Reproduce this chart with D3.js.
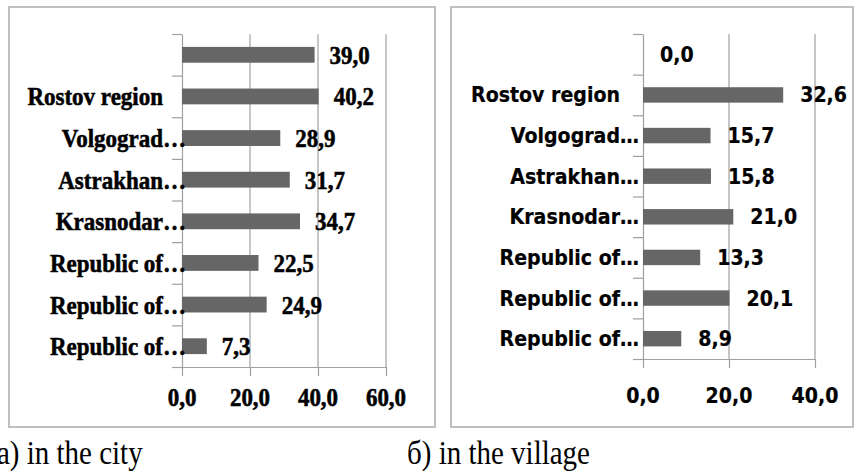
<!DOCTYPE html>
<html>
<head>
<meta charset="utf-8">
<script src="https://cdn.jsdelivr.net/npm/d3@7"></script>
<style>
  body { margin: 0; background: #fff; }
  svg { display: block; }
</style>
</head>
<body>
<div id="chart"></div>
<script>
// data
var categories = ["", "Rostov region", "Volgograd…", "Astrakhan…", "Krasnodar…", "Republic of…", "Republic of…", "Republic of…"];
var cityValues = [39.0, 40.2, 28.9, 31.7, 34.7, 22.5, 24.9, 7.3];
var villageValues = [0.0, 32.6, 15.7, 15.8, 21.0, 13.3, 20.1, 8.9];
var cityTicks = [0, 20, 40, 60];
var villageTicks = [0, 20, 40];
var captions = ["a) in the city", "б) in the village"];

var width = 856, height = 473;

var svg = d3.select("#chart")
    .append("svg")
    .attr("width", width)
    .attr("height", height);

var fmt = function (d) { return d.toFixed(1).replace(".", ","); };

// text in the source is a bit stretched vertically
var stretch = 1.12;

var panels = [
    {
        values: cityValues, ticks: cityTicks, max: 60,
        box: [9, 7, 435, 427],
        left: 182, right: 386, top: 34, bottom: 367,
        font: "'Liberation Serif', 'Times New Roman', serif", size: 23, heavy: 0.5,
        labelGap: 19, valueGap: 15, tickY: 397,
        caption: captions[0], capX: -3
    },
    {
        values: villageValues, ticks: villageTicks, max: 40,
        box: [451, 7, 853, 427],
        left: 643, right: 815, top: 34, bottom: 359,
        font: "'DejaVu Sans', sans-serif", size: 19, heavy: 0.2,
        labelGap: 23, valueGap: 17, tickY: 396,
        caption: captions[1], capX: 407
    }
];

function label(g, p, x, y, anchor, txt) {
    return g.append("text")
        .attr("transform", "translate(" + x + "," + y + ") scale(1," + stretch + ")")
        .attr("dy", "0.35em")
        .attr("text-anchor", anchor)
        .attr("stroke", "#000")
        .attr("stroke-width", p.heavy)
        .style("font-family", p.font)
        .style("font-weight", "bold")
        .style("font-size", p.size + "px")
        .text(txt);
}

panels.forEach(function (p) {
    var g = svg.append("g");

    // panel frame
    g.append("rect")
        .attr("x", p.box[0])
        .attr("y", p.box[1])
        .attr("width", p.box[2] - p.box[0])
        .attr("height", p.box[3] - p.box[1])
        .attr("fill", "none")
        .attr("stroke", "#bfbfbf")
        .attr("stroke-width", 2);

    var x = d3.scaleLinear()
        .domain([0, p.max])
        .range([p.left, p.right]);

    var y = d3.scaleBand()
        .domain(d3.range(categories.length))
        .range([p.top, p.bottom])
        .paddingInner(0.62)
        .paddingOuter(0.31);

    var yEdge = d3.scaleLinear()
        .domain([0, categories.length])
        .range([p.top, p.bottom]);

    // vertical gridlines
    g.selectAll(".grid")
        .data(p.ticks.slice(1))
        .enter()
        .append("line")
        .attr("x1", function (d) { return x(d); })
        .attr("x2", function (d) { return x(d); })
        .attr("y1", p.top)
        .attr("y2", p.bottom)
        .attr("stroke", "#a0a0a0")
        .attr("stroke-width", 1.2);

    // bottom axis (labels drawn below by hand to allow the stretch)
    var xAxis = g.append("g")
        .attr("transform", "translate(0," + p.bottom + ")")
        .call(d3.axisBottom(x).tickValues(p.ticks).tickSize(9).tickSizeOuter(0).tickFormat(""));
    xAxis.select(".domain").attr("stroke", "#a0a0a0").attr("stroke-width", 1.2);
    xAxis.selectAll(".tick line").attr("stroke", "#a0a0a0").attr("stroke-width", 1.2);
    p.ticks.forEach(function (t) {
        label(g, p, x(t), p.tickY, "middle", fmt(t));
    });

    // left axis with ticks between categories
    var yAxis = g.append("g")
        .attr("transform", "translate(" + p.left + ",0)")
        .call(d3.axisLeft(yEdge).tickValues(d3.range(categories.length + 1)).tickSize(10).tickSizeOuter(0).tickFormat(""));
    yAxis.select(".domain").attr("stroke", "#a0a0a0").attr("stroke-width", 1.2);
    yAxis.selectAll(".tick line").attr("stroke", "#a0a0a0").attr("stroke-width", 1.2);

    // bars
    g.selectAll(".bar")
        .data(p.values)
        .enter()
        .append("rect")
        .attr("x", x(0))
        .attr("y", function (d, i) { return y(i); })
        .attr("width", function (d) { return x(d) - x(0); })
        .attr("height", y.bandwidth())
        .attr("fill", "#666666");

    // value labels
    p.values.forEach(function (v, i) {
        label(g, p, x(v) + p.valueGap, y(i) + y.bandwidth() / 2, "start", fmt(v));
    });

    // category labels, ellipsis hangs past the label end
    categories.forEach(function (c, i) {
        var cy = y(i) + y.bandwidth() / 2;
        var cut = c.slice(-1) === "…";
        var body = cut ? c.slice(0, -1) : c;
        var lx = p.left - p.labelGap;
        label(g, p, lx, cy, "end", body);
        if (cut) label(g, p, lx, cy, "start", "…");
    });

    // caption under the panel
    svg.append("text")
        .attr("transform", "translate(" + p.capX + ",464) scale(1,1.14)")
        .style("font-family", "'Liberation Serif', 'Times New Roman', serif")
        .style("font-size", "29px")
        .text(p.caption);
});
</script>
</body>
</html>
